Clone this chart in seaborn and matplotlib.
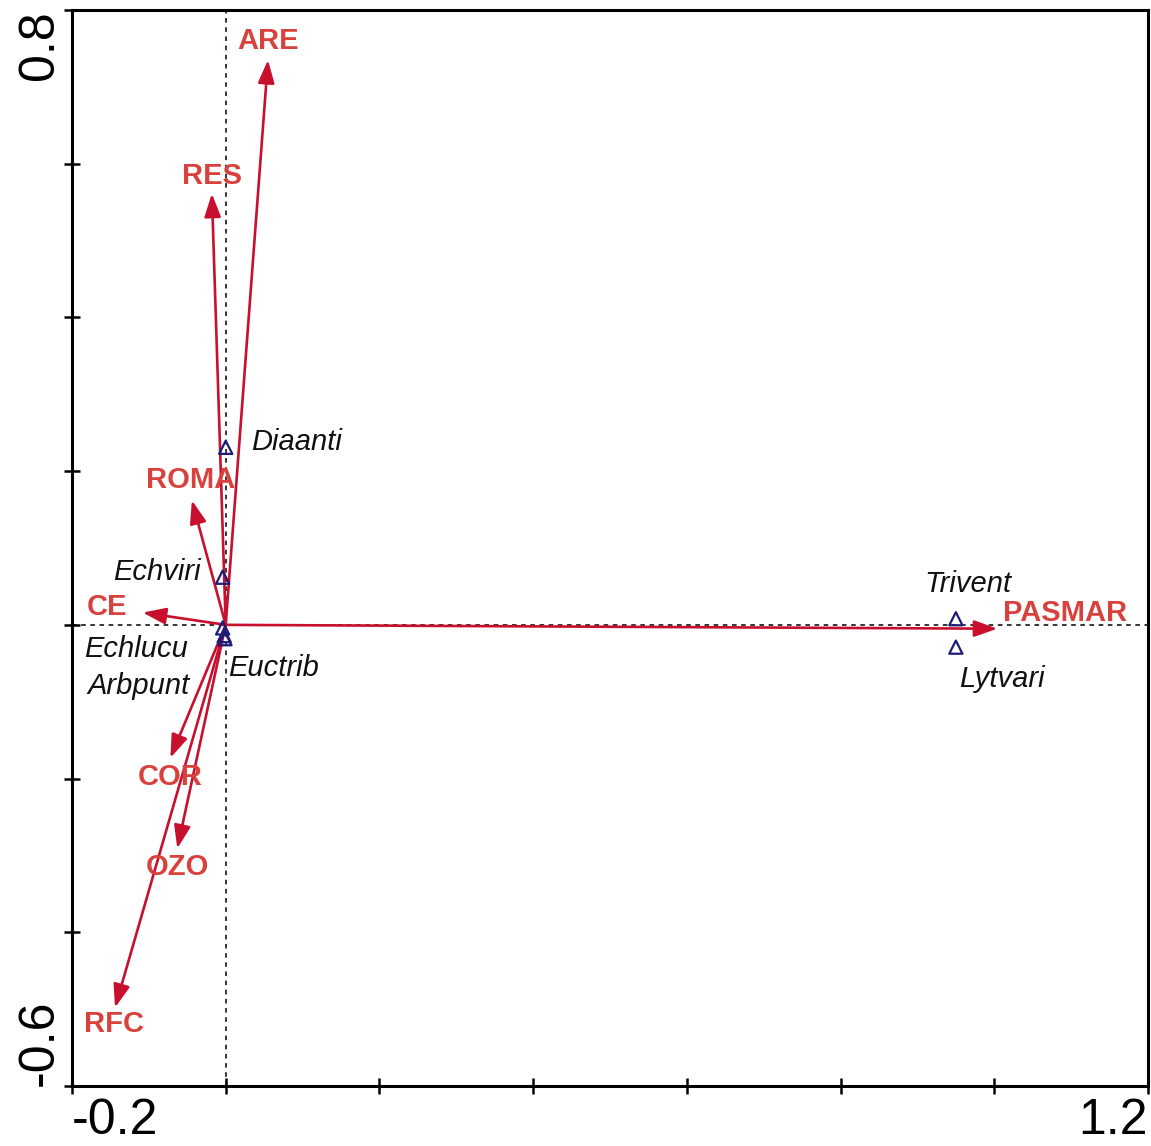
import matplotlib
matplotlib.use("Agg")
import matplotlib.pyplot as plt
import seaborn as sns
import pandas as pd

# Environmental variables (biplot arrows), axis 1 / axis 2 scores
env_names = ["ARE", "RES", "ROMA", "CE", "PASMAR", "COR", "OZO", "RFC"]
env_ax1 = [0.055, -0.018, -0.044, -0.108, 1.004, -0.072, -0.063, -0.144]
env_ax2 = [0.735, 0.561, 0.162, 0.016, -0.005, -0.173, -0.291, -0.498]

# Species scores
sp_names = ["Diaanti", "Echviri", "Echlucu", "Arbpunt", "Euctrib", "Trivent", "Lytvari"]
sp_ax1 = [0.000, -0.004, -0.004, -0.002, -0.001, 0.950, 0.950]
sp_ax2 = [0.231, 0.062, -0.004, -0.014, -0.018, 0.008, -0.029]

# Axis range and ticks
x_lim = (-0.2, 1.2)
y_lim = (-0.6, 0.8)
x_ticks = [-0.2, 0.0, 0.2, 0.4, 0.6, 0.8, 1.0, 1.2]
y_ticks = [-0.6, -0.4, -0.2, 0.0, 0.2, 0.4, 0.6, 0.8]

# Label placement (offset in points, horizontal alignment)
env_label_pos = {
    "ARE": (0, 14, "center"), "RES": (0, 13, "center"), "ROMA": (-1, 15, "center"),
    "CE": (-11, 4, "right"), "PASMAR": (4, 11, "left"), "COR": (0, -14, "center"),
    "OZO": (0, -13, "center"), "RFC": (-1, -12, "center"),
}
sp_label_pos = {
    "Diaanti": (18, 4, "left"), "Echviri": (-16, 4, "right"), "Echlucu": (-25, -15, "right"),
    "Arbpunt": (-25, -36, "right"), "Euctrib": (2, -21, "left"),
    "Trivent": (9, 25, "center"), "Lytvari": (33, -23, "center"),
}

sns.set_theme(style="white")
plt.rcParams["font.family"] = ["Liberation Sans", "DejaVu Sans"]

arrow_col = "#C8102E"
label_col = "#D9413D"
tri_col = "#1C1C78"

fig = plt.figure(figsize=(11.51, 11.46), dpi=100)
ax = fig.add_axes([72 / 1151, 1 - 1086 / 1146, 1076 / 1151, 1076 / 1146])

# Dashed zero lines
ax.axhline(0, color="black", lw=1.1, ls=(0, (3, 3)), zorder=1)
ax.axvline(0, color="black", lw=1.1, ls=(0, (3, 3)), zorder=1)

env = pd.DataFrame({"name": env_names, "x": env_ax1, "y": env_ax2})
sp = pd.DataFrame({"name": sp_names, "x": sp_ax1, "y": sp_ax2})

# Species as open triangles
sns.scatterplot(data=sp, x="x", y="y", marker="^", s=90, facecolors="none",
                edgecolor=tri_col, linewidth=1.6, ax=ax, zorder=4)
for _, r in sp.iterrows():
    dx, dy, ha = sp_label_pos[r["name"]]
    ax.annotate(r["name"], (r["x"], r["y"]), xytext=(dx, dy), textcoords="offset points",
                ha=ha, va="center", fontsize=21, fontstyle="italic", color="#111111", zorder=5)

# Environmental arrows from the origin
for _, r in env.iterrows():
    ax.annotate("", xy=(r["x"], r["y"]), xytext=(0, 0),
                arrowprops=dict(arrowstyle="-|>,head_length=0.7,head_width=0.25",
                                mutation_scale=20, color=arrow_col, lw=1.9,
                                shrinkA=0, shrinkB=0), zorder=3)
    dx, dy, ha = env_label_pos[r["name"]]
    ax.annotate(r["name"], (r["x"], r["y"]), xytext=(dx, dy), textcoords="offset points",
                ha=ha, va="center", fontsize=21, fontweight="bold", color=label_col, zorder=5)

ax.set_xlim(*x_lim)
ax.set_ylim(*y_lim)
ax.set_xticks(x_ticks)
ax.set_yticks(y_ticks)
ax.set_xticklabels(["-0.2"] + [""] * 6 + ["1.2"], fontsize=36, color="black")
ax.set_yticklabels(["-0.6"] + [""] * 6 + ["0.8"], fontsize=36, rotation=90, color="black")
xl = ax.get_xticklabels()
xl[0].set_ha("left")
xl[-1].set_ha("right")
yl = ax.get_yticklabels()
yl[0].set_va("bottom")
yl[-1].set_va("top")
ax.tick_params(axis="both", direction="inout", length=11, width=1.8, color="black",
               pad=3, bottom=True, left=True)
ax.tick_params(axis="y", pad=1)
ax.set_xlabel("")
ax.set_ylabel("")
for s in ax.spines.values():
    s.set_color("black")
    s.set_linewidth(2.2)

fig.savefig("out.png", dpi=100, facecolor="white")
